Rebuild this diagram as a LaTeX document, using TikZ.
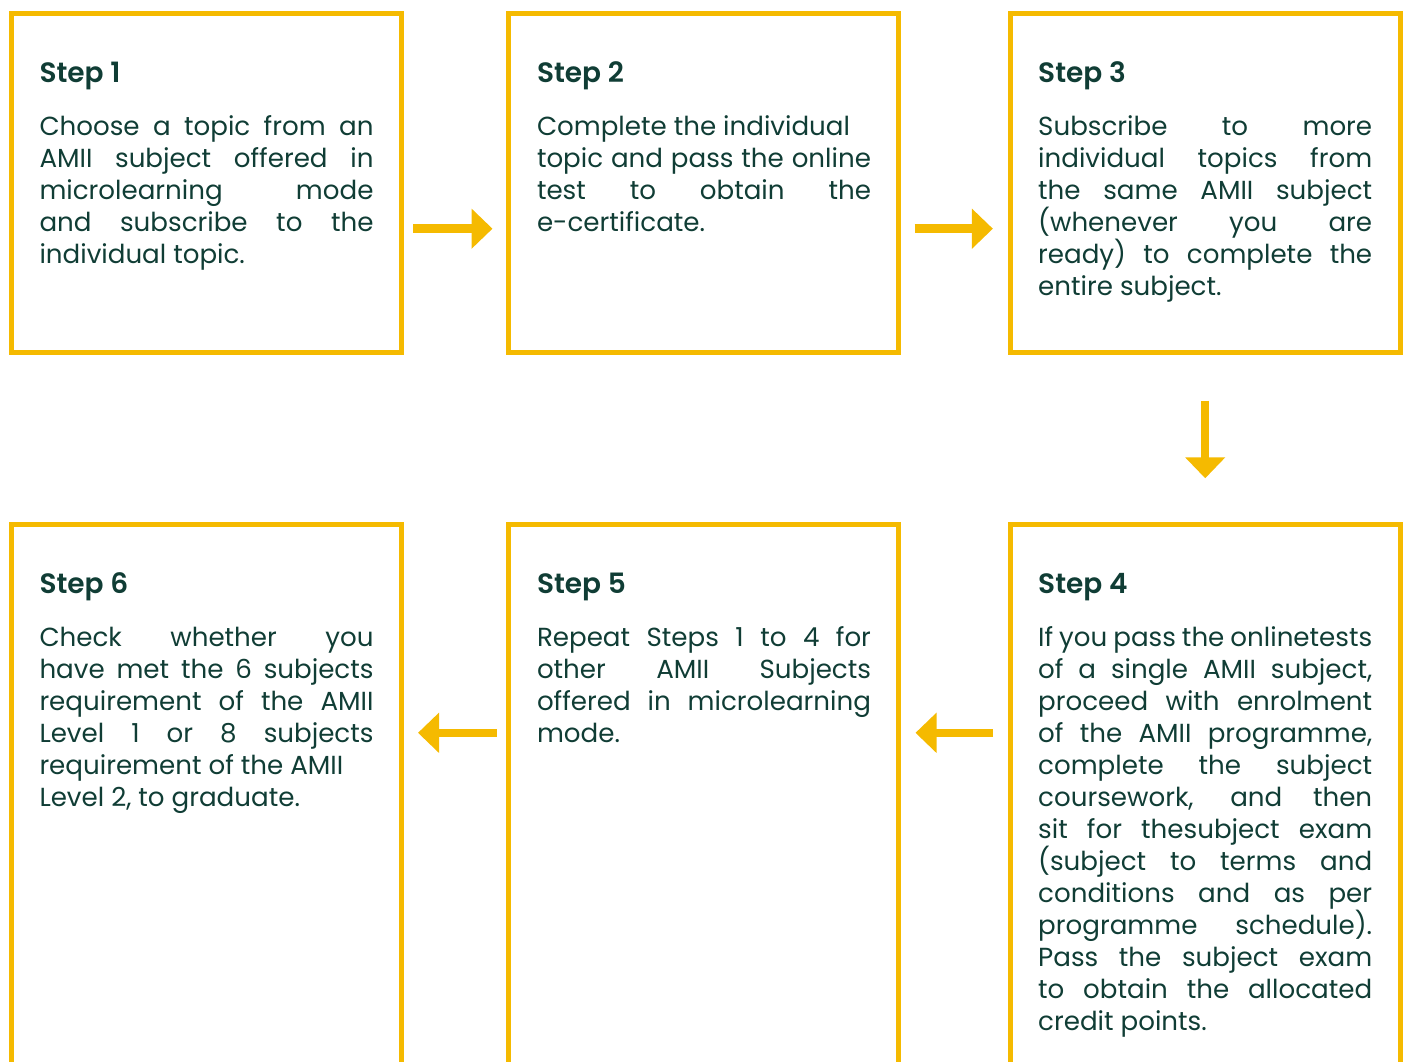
\documentclass[tikz,border=0pt]{standalone}
\usepackage{fontspec}
\setmainfont{Poppins}
\newfontface\stepsemi{Poppins SemiBold}
\usetikzlibrary{arrows.meta,calc}

\definecolor{stepgold}{RGB}{245,186,0}
\definecolor{stepink}{RGB}{16,61,53}

\tolerance=10000
\hyphenpenalty=10000

\tikzset{every picture/.style={line width=0.75pt}}
\tikzset{
  stepbox/.style={draw=stepgold, line width=3.75pt, outer sep=0pt, inner sep=0pt, minimum width=292.5pt},
  toprow/.style={stepbox, minimum height=254.4pt},
  botrow/.style={stepbox, minimum height=450pt},
  steptext/.style={anchor=base west, inner sep=0pt, text width=250.5pt, align=justify, text=stepink,
    font=\fontsize{19.6}{24}\selectfont},
  steparrow/.style={draw=stepgold, line width=6.4pt, -{Triangle[length=15.75pt, width=29.25pt]}},
}
\newcommand{\stepttl}[1]{{\fontsize{21}{24}\selectfont\stepsemi #1}\par\vspace{15.75pt}}

\begin{document}
\begin{tikzpicture}[x=0.75pt,y=0.75pt,yscale=-1,xscale=1]
    %set diagram frame 1406 x 1061
    \path[use as bounding box, clip] (0,0) rectangle (1406,1061);

    %Shape: Step boxes, top row
    \node [toprow] (s1) at (206,182.9) {};
    \node [toprow] (s2) at (703.5,182.9) {};
    \node [toprow] (s3) at (1205.2,182.9) {};
    %Shape: Step boxes, bottom row (open below the frame)
    \node [botrow] (s4) at (1205.2,824) {};
    \node [botrow] (s5) at (703.5,824) {};
    \node [botrow] (s6) at (206,824) {};

    % Text Node
    \node [steptext] (t1) at ($(s1.north west)+(28,69.3)$) {\stepttl{Step 1}%
      Choose a topic from an\linebreak AMII subject offered in\linebreak microlearning mode\linebreak and subscribe to the\linebreak individual topic.};
    % Text Node
    \node [steptext] (t2) at ($(s2.north west)+(28,69.3)$) {\stepttl{Step 2}%
      Complete the individual\newline topic and pass the online\linebreak test to obtain the\linebreak e-certificate.};
    % Text Node
    \node [steptext] (t3) at ($(s3.north west)+(27.5,69.3)$) {\stepttl{Step 3}%
      Subscribe to more\linebreak individual topics from\linebreak the same AMII subject\linebreak (whenever you are\linebreak ready) to complete the\linebreak entire subject.};
    % Text Node
    \node [steptext] (t4) at ($(s4.north west)+(27.5,69.3)$) {\stepttl{Step 4}%
      If you pass the onlinetests\linebreak of a single AMII subject,\linebreak proceed with enrolment\linebreak of the AMII programme,\linebreak complete the subject\linebreak coursework, and then\linebreak sit for thesubject exam\linebreak (subject to terms and\linebreak conditions and as per\linebreak programme schedule).\linebreak Pass the subject exam\linebreak to obtain the allocated\linebreak credit points.};
    % Text Node
    \node [steptext] (t5) at ($(s5.north west)+(28,69.3)$) {\stepttl{Step 5}%
      Repeat Steps 1 to 4 for\linebreak other AMII Subjects\linebreak offered in microlearning\linebreak mode.};
    % Text Node
    \node [steptext] (t6) at ($(s6.north west)+(28,69.3)$) {\stepttl{Step 6}%
      Check whether you\linebreak have met the 6 subjects\linebreak requirement of the AMII\linebreak Level 1 or 8 subjects\linebreak requirement of the AMII\newline Level 2, to graduate.};

    %Arrows between steps
    \draw [steparrow, shorten <=9pt, shorten >=12pt] ($(s1.north east)+(0,215.4)$) -- ($(s2.north west)+(0,215.4)$);
    \draw [steparrow, shorten <=12pt, shorten >=13pt] ($(s2.north east)+(0,215.4)$) -- ($(s3.north west)+(0,215.4)$);
    \draw [steparrow, shorten <=36pt, shorten >=34.3pt] (s3.south) -- (s4.north);
    \draw [steparrow, shorten <=12.75pt, shorten >=12.75pt] ($(s4.north west)+(0,208.8)$) -- ($(s5.north east)+(0,208.8)$);
    \draw [steparrow, shorten <=9pt, shorten >=12.75pt] ($(s5.north west)+(0,208.8)$) -- ($(s6.north east)+(0,208.8)$);

\end{tikzpicture}
\end{document}
